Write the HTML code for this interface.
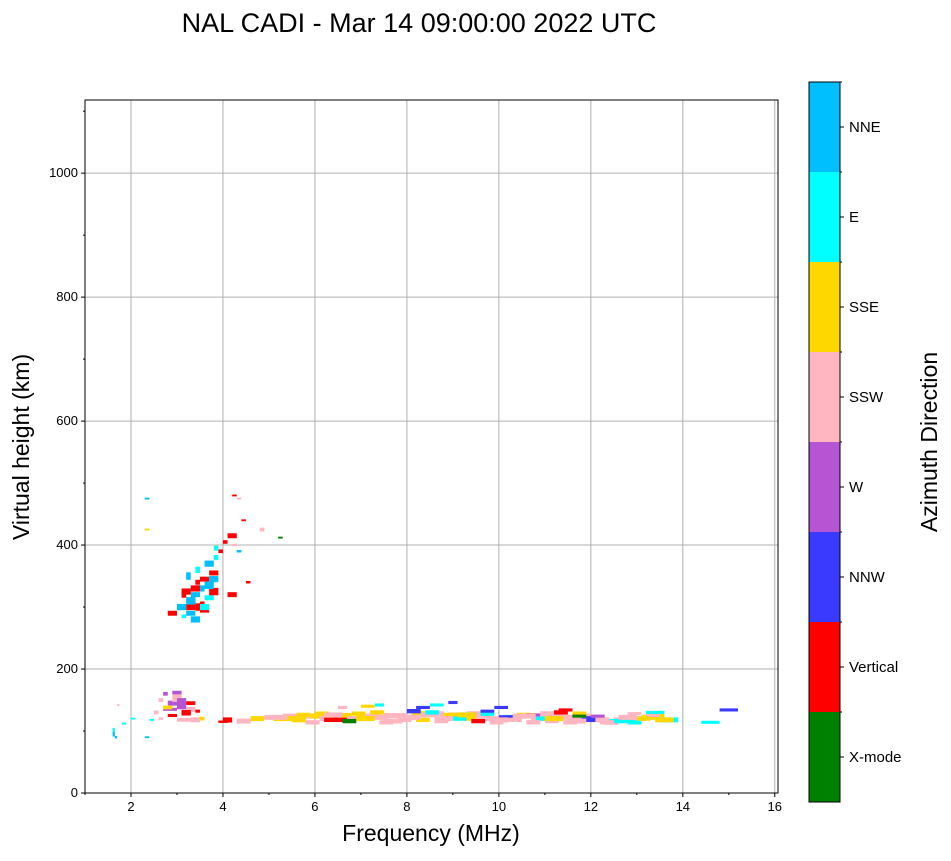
<!DOCTYPE html>
<html><head><meta charset="utf-8"><style>
body{margin:0;background:#fff;font-family:"Liberation Sans",sans-serif}
svg text{font-family:"Liberation Sans",sans-serif}
</style></head><body>
<svg id="chart" width="951" height="856" xmlns="http://www.w3.org/2000/svg">
<text x="419" y="32" font-size="27" text-anchor="middle">NAL CADI - Mar 14 09:00:00 2022 UTC</text>
<g id="grid"></g><g id="marks"></g><g id="axes"></g><g id="cbar"></g>
</svg>
<script>
const directionLabels=["X-mode","Vertical","NNW","W","SSW","SSE","E","NNE"];
const directionColors=["#008000","#ff0000","#3a3aff","#b655d4","#ffb6c1","#ffd700","#00ffff","#00bfff"];
const xTicks=[2,4,6,8,10,12,14,16];
const yTicks=[0,200,400,600,800,1000];
// echoes: frequency (MHz), virtual height (km), width (MHz), height span (km), direction index
const echoFreq=[1.6,1.6,1.65,1.7,1.8,2.0,2.3,2.3,2.3,2.4,2.5,2.6,2.6,2.7,2.7,2.8,2.8,2.9,2.9,3.0,3.0,3.1,3.2,3.3,3.4,3.5,2.7,2.9,3.0,3.1,3.2,
3.0,3.1,3.2,3.3,3.4,3.5,3.1,3.2,3.3,3.4,3.5,3.6,3.2,3.3,3.4,3.5,3.6,3.7,3.8,3.9,3.7,3.8,4.0,4.1,4.2,4.3,4.2,4.4,4.3,4.8,5.2,4.5,4.1,4.0,3.9,
4.0,4.3,4.6,4.9,5.1,5.3,5.5,5.7,5.9,6.1,6.3,6.5,6.7,6.9,7.1,7.3,7.5,7.7,7.9,8.1,8.3,8.5,8.7,8.9,9.1,9.3,9.5,9.7,9.9,10.1,10.3,10.5,10.7,10.9,11.1,11.3,11.5,11.7,11.9,12.1,12.3,12.5,12.7,12.9,13.1,13.3,13.5,
5.6,6.0,6.4,6.8,7.2,7.6,8.0,8.4,8.8,9.2,9.6,10.0,10.4,10.8,11.2,11.6,12.0,12.4,12.8,13.2,
5.8,6.2,6.6,7.0,7.4,7.8,8.2,8.6,9.0,9.4,9.8,10.2,10.6,11.0,11.4,11.8,12.2,12.6,13.0,
6.5,7.3,8.2,8.9,9.6,11.3,11.6,13.2,14.4,14.8,7.0,8.5,9.9,10.6,12.0,12.8,
5.0,5.4,6.2,6.9,7.5,7.9,8.6,9.1,9.8,10.4,11.0,11.5,12.6,13.4,
3.2,3.4,3.6,3.3,3.5,3.7,3.0,3.1,2.8];
const echoHeight=[95,102,90,142,112,120,475,425,90,118,130,120,150,135,160,125,145,150,162,140,118,128,135,118,132,120,138,155,148,130,145,
300,320,290,310,330,305,285,300,320,340,295,315,350,330,360,345,370,355,380,390,325,395,405,415,400,390,480,440,475,425,412,340,320,115,115,
118,116,120,122,120,124,118,124,124,120,122,125,120,123,124,122,125,125,122,128,126,128,124,126,122,128,124,120,118,122,124,125,120,128,126,122,118,124,120,118,114,118,120,120,122,124,118,
126,128,118,128,130,116,132,130,126,120,128,122,126,120,130,128,118,116,114,126,
114,118,116,120,114,118,118,116,120,116,114,118,114,116,114,118,114,116,120,
138,142,138,146,132,134,124,130,114,134,140,142,138,126,124,128,
122,120,126,120,116,122,120,126,118,124,120,116,122,118,
310,300,335,280,300,345,300,325,290];
const echoWidth=[0.05,0.05,0.05,0.05,0.1,0.1,0.1,0.1,0.1,0.1,0.1,0.1,0.1,0.3,0.1,0.2,0.2,0.3,0.2,0.2,0.5,0.2,0.2,0.2,0.1,0.1,0.2,0.2,0.2,0.2,0.2,
0.1,0.1,0.2,0.1,0.2,0.1,0.1,0.2,0.2,0.1,0.2,0.2,0.1,0.2,0.1,0.2,0.2,0.2,0.1,0.1,0.2,0.1,0.1,0.2,0.1,0.1,0.1,0.1,0.1,0.1,0.1,0.1,0.2,0.2,0.2,
0.2,0.3,0.3,0.3,0.3,0.3,0.3,0.3,0.3,0.3,0.3,0.3,0.3,0.3,0.3,0.3,0.3,0.3,0.3,0.3,0.3,0.3,0.3,0.3,0.3,0.3,0.3,0.3,0.3,0.3,0.3,0.3,0.3,0.3,0.3,0.3,0.3,0.3,0.3,0.3,0.3,0.3,0.3,0.3,0.3,0.3,0.4,
0.3,0.3,0.3,0.3,0.3,0.3,0.3,0.3,0.3,0.3,0.3,0.3,0.3,0.3,0.3,0.3,0.3,0.3,0.3,0.3,
0.3,0.3,0.3,0.3,0.3,0.3,0.3,0.3,0.3,0.3,0.3,0.3,0.3,0.3,0.3,0.3,0.3,0.3,0.3,
0.2,0.2,0.3,0.2,0.3,0.3,0.3,0.4,0.4,0.4,0.3,0.3,0.3,0.3,0.3,0.3,
0.4,0.4,0.4,0.4,0.4,0.4,0.4,0.4,0.4,0.4,0.4,0.4,0.4,0.4,
0.2,0.2,0.2,0.2,0.2,0.2,0.2,0.2,0.2];
const echoSpan=[8,6,4,3,3,3,3,3,3,3,6,4,6,5,6,5,8,6,6,10,6,6,8,8,5,6,6,8,10,8,6,
10,10,8,12,10,8,6,10,8,8,8,8,12,10,10,8,10,8,8,6,12,8,6,8,4,4,3,3,3,6,3,4,8,4,4,
8,8,8,8,8,8,8,8,8,8,8,8,8,8,8,8,8,8,8,8,8,8,8,8,8,8,8,8,8,8,8,8,8,8,8,8,8,8,8,8,8,8,8,8,8,8,8,
7,7,7,7,7,7,7,7,7,7,7,7,7,7,7,7,7,7,7,7,
7,7,7,7,7,7,7,7,7,7,7,7,7,7,7,7,7,7,7,
5,5,5,5,5,5,5,5,5,5,5,5,5,5,5,5,
8,8,8,8,8,8,8,8,8,8,8,8,8,8,
12,12,12,10,10,10,10,10,8];
const echoDir=[7,6,7,4,6,6,7,5,7,6,4,4,4,3,3,1,3,4,3,3,4,1,4,4,1,5,5,4,3,1,1,
7,1,7,1,7,1,6,1,7,1,1,6,7,1,6,1,7,1,6,1,1,6,1,1,4,7,1,1,4,4,0,1,1,4,1,
1,4,5,4,5,4,5,4,5,4,4,5,4,5,4,4,4,4,4,5,4,4,4,4,4,4,4,4,4,6,4,5,4,4,4,4,4,4,2,4,4,4,4,4,5,5,6,
5,5,1,5,5,4,2,6,5,5,6,2,5,6,1,5,4,6,6,4,
4,1,0,5,4,4,5,4,6,1,4,4,4,4,4,2,4,6,5,
4,6,2,2,2,1,0,6,6,2,5,6,2,3,3,4,
4,5,4,5,4,4,4,5,4,4,5,4,4,5,
7,1,7,7,6,7,7,1,1];
const W=951,H=856,L=85,T=100,R=778,B=793;
const xMin=1,xMax=16.07,yMin=0,yMax=1118;
const sx=v=>L+(v-xMin)/(xMax-xMin)*(R-L);
const sy=v=>B-(v-yMin)/(yMax-yMin)*(B-T);
const NS="http://www.w3.org/2000/svg";
function mk(tag,parent,attrs){const e=document.createElementNS(NS,tag);for(const k in attrs)e.setAttribute(k,attrs[k]);parent.appendChild(e);return e;}
const grid=document.getElementById('grid'),marks=document.getElementById('marks'),axes=document.getElementById('axes'),cbar=document.getElementById('cbar');
xTicks.forEach(t=>{const x=sx(t);
 if(t<xMax){const g=mk('line',grid,{x1:x,x2:x,y1:T,y2:B,stroke:'#b0b0b0','stroke-width':1});
 
 }
 mk('line',axes,{x1:x,x2:x,y1:B,y2:B+4,stroke:'#000'});
 const lb=mk('text',axes,{x:x,y:B+18,'font-size':13,'text-anchor':'middle'});lb.textContent=t;
 
 });
for(let m=1;m<16;m+=2){const x=sx(m);if(m>=xMin)mk('line',axes,{x1:x,x2:x,y1:B,y2:B+2,stroke:'#000'});}
yTicks.forEach(t=>{const y=sy(t);
 const g=mk('line',grid,{x1:L,x2:R,y1:y,y2:y,stroke:'#b0b0b0','stroke-width':1});
 
 
 mk('line',axes,{x1:L-4,x2:L,y1:y,y2:y,stroke:'#000'});
 const lb=mk('text',axes,{x:L-7,y:y+4,'font-size':13,'text-anchor':'end'});lb.textContent=t;
 
 });
for(let m=100;m<1118;m+=200){const y=sy(m);mk('line',axes,{x1:L-2,x2:L,y1:y,y2:y,stroke:'#000'});}
echoFreq.forEach((f,i)=>{const x1=sx(f),x2=sx(f+echoWidth[i]),y1=sy(echoHeight[i]+echoSpan[i]/2),y2=sy(echoHeight[i]-echoSpan[i]/2);
 const r=mk('rect',marks,{x:x1,y:y1,width:x2-x1,height:y2-y1,fill:directionColors[echoDir[i]]});
 
 });
const fr=mk('rect',axes,{x:L,y:T,width:R-L,height:B-T,fill:'none',stroke:'#000','stroke-width':1});


const xt=mk('text',axes,{x:431,y:841,'font-size':23,'text-anchor':'middle'});xt.textContent='Frequency (MHz)';


const yt=mk('text',axes,{x:0,y:0,'font-size':23,'text-anchor':'middle',transform:'translate(29,447) rotate(-90)'});yt.textContent='Virtual height (km)';


const cT=82,cB=802,cL=809,cR=840,seg=(cB-cT)/directionLabels.length;
directionLabels.forEach((lab,i)=>{const y=cB-(i+1)*seg;
 const r=mk('rect',cbar,{x:cL,y:y,width:cR-cL,height:seg,fill:directionColors[i]});
 
 
 mk('line',cbar,{x1:cR,x2:cR+4,y1:y+seg/2,y2:y+seg/2,stroke:'#000'});
 mk('line',cbar,{x1:cR,x2:cR+2,y1:y,y2:y,stroke:'#000'});
 const t=mk('text',cbar,{x:cR+9,y:y+seg/2+5,'font-size':15});t.textContent=lab;
 
 });
mk('rect',cbar,{x:cL,y:cT,width:cR-cL,height:cB-cT,fill:'none',stroke:'#000'});
const ct=mk('text',cbar,{x:0,y:0,'font-size':23,'text-anchor':'middle',transform:'translate(937,442) rotate(-90)'});ct.textContent='Azimuth Direction';


</script>
</body></html>
